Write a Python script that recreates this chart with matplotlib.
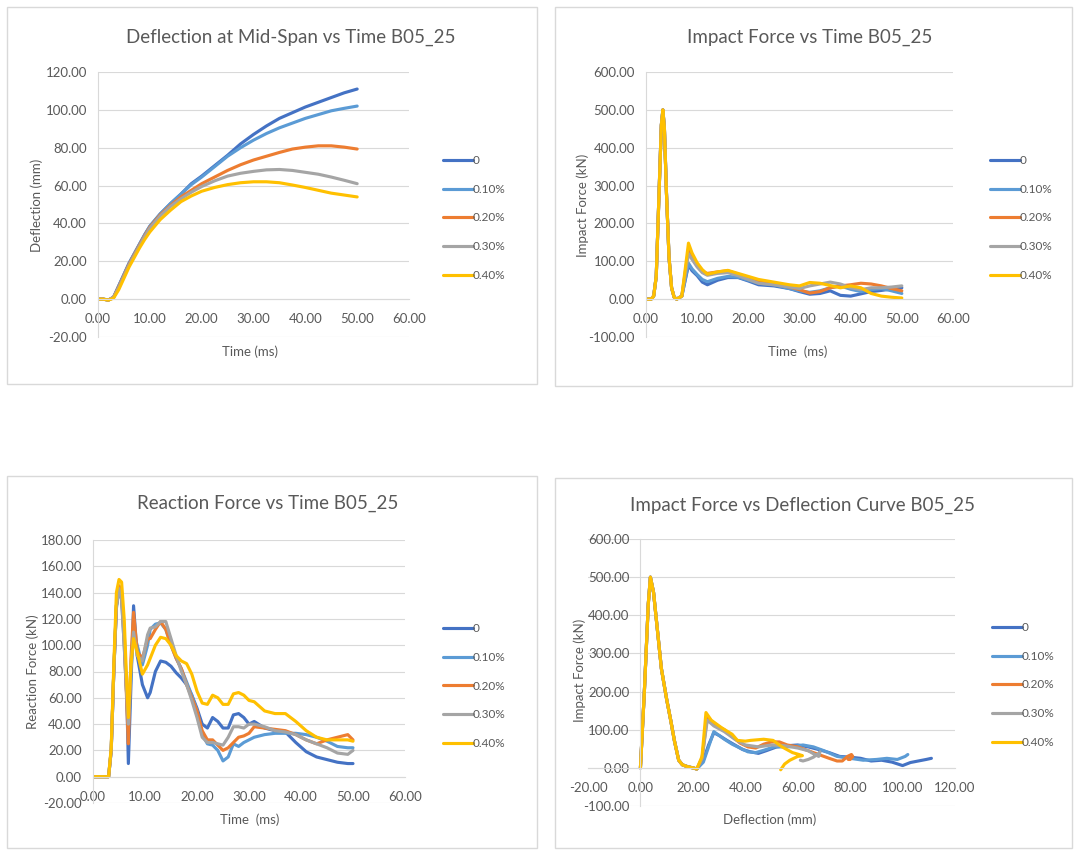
import numpy as np
import matplotlib
matplotlib.use("Agg")
import matplotlib.pyplot as plt
from matplotlib.patches import Rectangle
from matplotlib.ticker import FormatStrFormatter

plt.rcParams['font.family'] = ['Lato', 'DejaVu Sans']
plt.rcParams['axes.unicode_minus'] = False

W, H = 1079, 850
TXT = '#595959'
GRID = '#D9D9D9'

series = ['0', '0.10%', '0.20%', '0.30%', '0.40%']
colors = ['#4472C4', '#5B9BD5', '#ED7D31', '#A5A5A5', '#FFC000']

# ---- deflection at mid-span vs time
t1 = [0, 1, 2, 3, 4, 5, 6, 7, 8, 9, 10, 12, 14, 16, 18, 20, 22.5, 25, 27.5, 30,
      32.5, 35, 37.5, 40, 42.5, 45, 47.5, 50]
defl_0 = [0, 0, -0.5, 1, 7, 13, 19, 24, 29, 34, 38.5, 45, 50.5, 55.5, 61, 65, 70.5, 76, 82, 87,
          91.5, 95.5, 98.5, 101.5, 104, 106.5, 109, 111]
defl_10 = [0, 0, -0.5, 1, 7, 13, 19, 24, 29, 34, 38.5, 45, 50.5, 55.5, 60.5, 64.5, 70, 75.5, 80, 84,
           87.5, 90.5, 93, 95.5, 97.5, 99.5, 100.8, 102]
defl_20 = [0, 0, -0.5, 1, 6.5, 12.5, 18.5, 23.5, 28.5, 33.5, 38, 44.5, 49.5, 54, 57.5, 61, 64.5, 68, 71, 73.5,
           75.5, 77.5, 79.3, 80.3, 81, 81, 80.3, 79.3]
defl_30 = [0, 0, -0.5, 1, 6, 12, 18, 23, 28, 33, 37.5, 44, 49, 53, 56.5, 59.5, 62.5, 65, 66.5, 67.5,
           68.3, 68.5, 68, 67, 66, 64.5, 62.8, 61]
defl_40 = [0, 0, -0.5, 0.5, 5, 11, 17, 22, 27, 31.5, 35.5, 42, 47, 51.5, 54.5, 57, 59, 60.5, 61.5, 62,
           62, 61.5, 60.3, 59, 57.5, 56, 55, 54]

# ---- impact force vs time
t2 = [0, 1, 1.5, 2, 2.5, 3, 3.3, 3.6, 4, 4.5, 5, 5.5, 6, 7,
      8.3, 9, 10, 11, 12, 14, 16, 18, 20, 22, 25, 28, 30, 32, 34, 36, 38, 40, 42, 44, 46, 48, 50]
pulse = [0, 0, 8, 60, 260, 460, 500, 450, 280, 110, 30, 5, 0, 8]
imp_0 = pulse + [90, 75, 62, 45, 38, 50, 57, 57, 48, 38, 35, 28, 20, 13, 15, 22, 10, 8, 14, 20, 23, 27, 30]
imp_10 = pulse + [95, 80, 65, 52, 46, 55, 60, 58, 50, 42, 38, 28, 22, 18, 22, 30, 35, 26, 20, 25, 28, 22, 15]
imp_20 = pulse + [130, 112, 88, 72, 68, 72, 75, 66, 55, 48, 42, 32, 25, 16, 20, 30, 35, 38, 42, 40, 35, 28, 22]
imp_30 = pulse + [120, 105, 85, 70, 63, 68, 70, 62, 52, 42, 38, 32, 28, 35, 40, 45, 40, 30, 25, 30, 30, 32, 35]
imp_40 = pulse + [148, 122, 96, 78, 66, 72, 76, 68, 60, 52, 45, 38, 35, 44, 42, 36, 30, 35, 30, 15, 8, 5, 3]

# ---- reaction force vs time
t3 = [0, 1, 2, 3, 3.5, 4, 4.5, 5, 5.5, 6, 6.5, 6.8, 7.3, 7.8, 8.5, 9.5, 10.5, 11, 12, 13, 14, 15,
      16, 17, 18, 19, 20, 21, 22, 23, 24, 25, 26, 27, 28, 29, 30, 31, 33, 35, 37, 39, 41, 43, 45,
      47, 49, 50]
reac_0 = [0, 0, 0, 0, 20, 80, 130, 145, 138, 110, 60, 10, 70, 130, 92, 70, 60, 64,
          80, 88, 87, 84, 79, 75, 70, 62, 52, 40, 37, 45, 42, 37, 37, 47, 48, 45, 40, 42,
          37, 35, 34, 26, 19, 15, 13, 11, 10, 10]
reac_10 = [0, 0, 0, 0, 20, 80, 128, 142, 135, 100, 60, 30, 80, 110, 100, 85, 100, 112,
           116, 117, 112, 100, 90, 82, 72, 62, 50, 32, 25, 24, 20, 12, 15, 25, 23, 26, 28, 30,
           32, 33, 33, 33, 32, 30, 27, 23, 22, 22]
reac_20 = [0, 0, 0, 0, 20, 80, 130, 145, 138, 105, 55, 25, 90, 125, 95, 90, 105, 105,
           112, 118, 112, 100, 90, 82, 70, 60, 50, 35, 28, 28, 24, 20, 22, 26, 30, 31, 33, 38,
           37, 36, 35, 32, 28, 25, 28, 30, 32, 28]
reac_30 = [0, 0, 0, 0, 20, 80, 130, 143, 135, 100, 60, 40, 85, 110, 92, 88, 108, 113,
           114, 118, 118, 105, 92, 80, 70, 58, 45, 30, 26, 26, 25, 24, 30, 38, 38, 37, 40, 40,
           38, 35, 34, 32, 28, 25, 22, 18, 17, 20]
reac_40 = [0, 0, 0, 0, 22, 85, 140, 150, 148, 120, 70, 45, 85, 105, 95, 78, 85, 90,
           100, 106, 105, 100, 92, 88, 86, 78, 65, 56, 55, 62, 60, 55, 55, 63, 64, 62, 58, 57,
           50, 48, 48, 42, 35, 30, 28, 28, 28, 27]

# ---- impact force vs deflection
d_pulse = [0, 1.5, 3, 3.8, 5, 6.5, 8, 10, 11.6, 13, 14.6, 16, 18, 20, 21.5]
f_pulse = [0, 200, 430, 500, 460, 360, 260, 180, 123, 70, 20, 8, 3, 0, -3]
fd_x_0 = d_pulse + [24, 26, 28, 30, 33, 36, 39, 42, 45, 48, 52, 56, 60, 64, 68, 72, 76, 80, 84,
                    88, 92, 96, 100, 103, 106, 109, 111]
fd_y_0 = f_pulse + [20, 60, 92, 85, 72, 60, 48, 42, 38, 45, 55, 58, 60, 55, 48, 40, 30, 28, 25,
                    18, 20, 15, 6, 14, 18, 22, 25]
fd_x_10 = d_pulse + [24, 26, 28, 30, 32, 35, 38, 41, 44, 47, 51, 55, 58, 62, 66, 70, 75, 80, 85,
                     90, 94, 98, 101, 102]
fd_y_10 = f_pulse + [15, 55, 95, 85, 75, 62, 52, 42, 40, 46, 55, 55, 56, 60, 55, 45, 30, 25, 20,
                     22, 25, 22, 30, 35]
fd_x_20 = d_pulse + [23.5, 25.5, 28, 32, 35, 38, 41, 44, 47, 50, 53, 56, 60, 64, 68, 72, 75, 77,
                     79, 80.5, 81, 80, 79.3]
fd_y_20 = f_pulse + [25, 135, 115, 100, 82, 65, 55, 52, 62, 68, 68, 60, 55, 45, 35, 25, 18, 18,
                     30, 35, 30, 22, 22]
fd_x_30 = d_pulse + [23.5, 25.5, 28, 32, 36, 40, 45, 50, 55, 60, 64, 66.5, 68, 68.5, 68, 66, 64,
                     62, 61]
fd_y_30 = f_pulse + [25, 125, 110, 95, 75, 60, 55, 60, 58, 52, 45, 35, 30, 42, 38, 28, 22, 18, 20]
fd_x_40 = d_pulse + [23.5, 25, 27, 31, 35, 37, 40, 42, 47, 50.6, 54, 58, 60.5, 61.8, 60, 57, 55,
                     53.5]
fd_y_40 = f_pulse + [30, 145, 125, 105, 88, 72, 70, 72, 75, 72, 55, 40, 35, 32, 30, 20, 10, -5]


def px_box(x0, x1, y_top, y_bot):
    return [x0 / W, 1 - y_bot / H, (x1 - x0) / W, (y_bot - y_top) / H]


def style(ax, xlim, xstep, ylim, ystep):
    ax.set_xlim(xlim)
    ax.set_ylim(ylim)
    ax.set_xticks(np.arange(xlim[0], xlim[1] + 0.01, xstep))
    ax.set_yticks(np.arange(ylim[0], ylim[1] + 0.01, ystep))
    ax.xaxis.set_major_formatter(FormatStrFormatter('%.2f'))
    ax.yaxis.set_major_formatter(FormatStrFormatter('%.2f'))
    ax.grid(axis='y', color=GRID, lw=0.8)
    ax.set_axisbelow(True)
    for s in ['top', 'right']:
        ax.spines[s].set_visible(False)
    for s in ['left', 'bottom']:
        ax.spines[s].set_position(('data', 0))
        ax.spines[s].set_color(GRID)
        ax.spines[s].set_linewidth(0.8)
    ax.tick_params(axis='both', length=0, labelsize=9.5, colors=TXT)
    ax.tick_params(axis='x', pad=10)
    ax.tick_params(axis='y', pad=8)


def add_legend(ax, x, y):
    ax.legend(loc='center left', bbox_to_anchor=(x / W, 1 - y / H),
              bbox_transform=fig.transFigure, frameon=False, fontsize=8.5,
              labelcolor=TXT, handlelength=2.5, handletextpad=0.05,
              labelspacing=1.5, borderpad=0, borderaxespad=0)


fig = plt.figure(figsize=(W / 100, H / 100), dpi=100)

# chart frames
for x0, y0, x1, y1 in [(7, 7, 537, 384), (555, 7, 1072, 386),
                       (7, 476, 537, 848), (555, 478, 1072, 848)]:
    fig.patches.append(Rectangle((x0 / W, 1 - y1 / H), (x1 - x0) / W, (y1 - y0) / H,
                                 transform=fig.transFigure, fill=False,
                                 edgecolor=GRID, lw=1))

LW = 2.25

# top left
ax1 = fig.add_axes(px_box(98, 409, 72, 337))
for y, c, lab in zip([defl_0, defl_10, defl_20, defl_30, defl_40], colors, series):
    ax1.plot(t1, y, color=c, lw=LW, label=lab, solid_capstyle='round')
style(ax1, (0, 60), 10, (-20, 120), 20)
add_legend(ax1, 443, 218)
fig.text(291 / W, 1 - 37 / H, 'Deflection at Mid-Span vs Time B05_25', ha='center',
         va='center', fontsize=13.5, color=TXT)
fig.text(37 / W, 1 - 205 / H, 'Deflection (mm)', rotation=90, ha='center', va='center',
         fontsize=9.5, color=TXT)
fig.text(250 / W, 1 - 352 / H, 'Time (ms)', ha='center', va='center', fontsize=9.5, color=TXT)

# top right
ax2 = fig.add_axes(px_box(646, 953, 72, 337))
for y, c, lab in zip([imp_0, imp_10, imp_20, imp_30, imp_40], colors, series):
    ax2.plot(t2, y, color=c, lw=LW, label=lab, solid_capstyle='round')
style(ax2, (0, 60), 10, (-100, 600), 100)
add_legend(ax2, 990, 218)
fig.text(810 / W, 1 - 37 / H, 'Impact Force vs Time B05_25', ha='center',
         va='center', fontsize=13.5, color=TXT)
fig.text(583 / W, 1 - 205 / H, 'Impact Force (kN)', rotation=90, ha='center', va='center',
         fontsize=9.5, color=TXT)
fig.text(798 / W, 1 - 352 / H, 'Time  (ms)', ha='center', va='center', fontsize=9.5, color=TXT)

# bottom left
ax3 = fig.add_axes(px_box(93, 405, 540, 803))
for y, c, lab in zip([reac_0, reac_10, reac_20, reac_30, reac_40], colors, series):
    ax3.plot(t3, y, color=c, lw=LW, label=lab, solid_capstyle='round')
style(ax3, (0, 60), 10, (-20, 180), 20)
add_legend(ax3, 443, 686)
fig.text(268 / W, 1 - 503 / H, 'Reaction Force vs Time B05_25', ha='center',
         va='center', fontsize=13.5, color=TXT)
fig.text(33 / W, 1 - 672 / H, 'Reaction Force (kN)', rotation=90, ha='center', va='center',
         fontsize=9.5, color=TXT)
fig.text(250 / W, 1 - 820 / H, 'Time  (ms)', ha='center', va='center', fontsize=9.5, color=TXT)

# bottom right
ax4 = fig.add_axes(px_box(588, 955, 539, 806))
for x, y, c, lab in zip([fd_x_0, fd_x_10, fd_x_20, fd_x_30, fd_x_40],
                        [fd_y_0, fd_y_10, fd_y_20, fd_y_30, fd_y_40], colors, series):
    ax4.plot(x, y, color=c, lw=LW, label=lab, solid_capstyle='round')
style(ax4, (-20, 120), 20, (-100, 600), 100)
add_legend(ax4, 992, 685)
fig.text(802 / W, 1 - 505 / H, 'Impact Force vs Deflection Curve B05_25', ha='center',
         va='center', fontsize=13.5, color=TXT)
fig.text(580 / W, 1 - 670 / H, 'Impact Force (kN)', rotation=90, ha='center', va='center',
         fontsize=9.5, color=TXT)
fig.text(770 / W, 1 - 820 / H, 'Deflection (mm)', ha='center', va='center', fontsize=9.5,
         color=TXT)

fig.savefig('out.png', dpi=100)
